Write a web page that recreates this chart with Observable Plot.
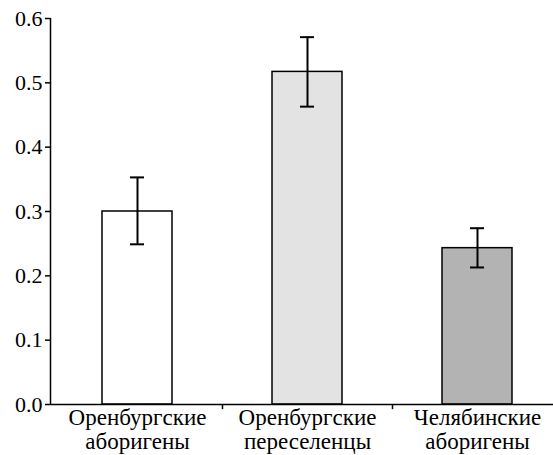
<!DOCTYPE html>
<html>
<head>
<meta charset="utf-8">
<script src="https://cdn.jsdelivr.net/npm/d3@7"></script>
<script src="https://cdn.jsdelivr.net/npm/@observablehq/plot@0.6"></script>
<style>
  body { margin: 0; background: #fff; }
</style>
</head>
<body>
<div id="chart"></div>
<script>
// Group names (two lines each), mean values and error-bar limits
const groups = ["Оренбургские\nаборигены", "Оренбургские\nпереселенцы", "Челябинские\nаборигены"];
const means = [0.300, 0.517, 0.243];
const lower = [0.249, 0.463, 0.213];
const upper = [0.353, 0.571, 0.274];
const fills = ["#ffffff", "#e3e3e3", "#b3b3b3"];
const yTicks = [0, 0.1, 0.2, 0.3, 0.4, 0.5, 0.6];

const data = groups.map((g, i) => ({group: g, mean: means[i], lo: lower[i], hi: upper[i], fill: fills[i]}));

const serif = "Liberation Serif, Times New Roman, serif";

const chart = Plot.plot({
  width: 553,
  height: 455,
  marginTop: 18,
  marginBottom: 51,
  marginLeft: 50,
  marginRight: 0,
  style: {fontFamily: serif, background: "#fff", color: "#000"},
  x: {domain: groups, range: [52, 562], paddingInner: 0.588, paddingOuter: 0.294, axis: null},
  y: {domain: [0, 0.6], axis: null},
  marks: [
    Plot.barY(data, {x: "group", y: "mean", fill: "fill", stroke: "#000", strokeWidth: 1.5}),
    // error bars with caps
    Plot.ruleX(data, {x: "group", y1: "lo", y2: "hi", stroke: "#000", strokeWidth: 2}),
    Plot.tickY(data, {x: "group", y: "lo", stroke: "#000", strokeWidth: 2, inset: 28}),
    Plot.tickY(data, {x: "group", y: "hi", stroke: "#000", strokeWidth: 2, inset: 28}),
    // axis lines
    Plot.ruleY([0], {stroke: "#000", strokeWidth: 1.5}),
    Plot.ruleX([groups[0]], {dx: -87, y1: 0, y2: 0.6, stroke: "#000", strokeWidth: 1.5}),
    // separators between categories below the x axis
    Plot.ruleX(groups.slice(0, 2), {dx: 85, y1: 0, y2: -0.008, stroke: "#000", strokeWidth: 1.5}),
    Plot.axisY({ticks: yTicks, tickFormat: d3.format(".1f"), tickSize: 5, tickPadding: 3, stroke: "#000", strokeWidth: 1.5, fill: "#000", fontSize: 22}),
    Plot.text(data, {x: "group", y: 0, text: "group", lineAnchor: "top", dy: 3, lineHeight: 1.05, fill: "#000", fontSize: 23})
  ]
});

document.getElementById("chart").appendChild(chart);
</script>
</body>
</html>
